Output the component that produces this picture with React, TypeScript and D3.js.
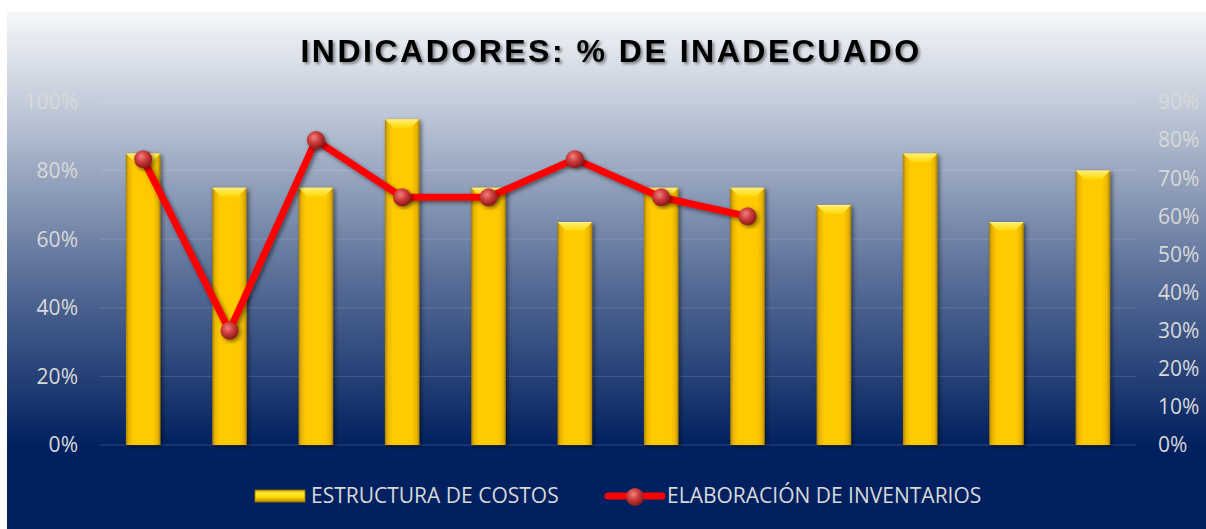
import React from "react";
import * as d3 from "d3";

const categories = ["1", "2", "3", "4", "5", "6", "7", "8", "9", "10", "11", "12"];
const costos = [85, 75, 75, 95, 75, 65, 75, 75, 70, 85, 65, 80];
const inventarios = [75, 30, 80, 65, 65, 75, 65, 60];
const leftTicks = [0, 20, 40, 60, 80, 100];
const rightTicks = [0, 10, 20, 30, 40, 50, 60, 70, 80, 90];

const W = 1206;
const H = 529;

export default function App() {
  const x = d3.scaleBand<string>().domain(categories).range([100, 1136]).paddingInner(0.6).paddingOuter(0.3);
  const yL = d3.scaleLinear().domain([0, 100]).range([445, 102]);
  const yR = d3.scaleLinear().domain([0, 90]).range([445, 102]);
  const bw = x.bandwidth();
  const cx = (i: number) => (x(categories[i]) as number) + bw / 2;
  const line = d3
    .line<number>()
    .x((_, i) => cx(i))
    .y((d) => yR(d));
  const labelColor = "#d9d9d9";
  const font = "'Open Sans', sans-serif";

  return (
    <svg width={W} height={H} style={{ position: "absolute", left: 0, top: 0 }} xmlns="http://www.w3.org/2000/svg">
      <defs>
        <linearGradient id="bg" x1="0" y1="12" x2="0" y2={H} gradientUnits="userSpaceOnUse">
          <stop offset="0" stopColor="#f5f7fa" />
          <stop offset="0.2" stopColor="#bcc6d6" />
          <stop offset="0.5" stopColor="#5d719a" />
          <stop offset="0.72" stopColor="#213d74" />
          <stop offset="0.84" stopColor="#00205f" />
          <stop offset="1" stopColor="#002060" />
        </linearGradient>
        <linearGradient id="bar" x1="0" y1="0" x2="1" y2="0">
          <stop offset="0" stopColor="#a88000" />
          <stop offset="0.08" stopColor="#e8b400" />
          <stop offset="0.22" stopColor="#ffca00" />
          <stop offset="0.78" stopColor="#ffca00" />
          <stop offset="0.92" stopColor="#e8b400" />
          <stop offset="1" stopColor="#a88000" />
        </linearGradient>
        <linearGradient id="bevel" x1="0" y1="0" x2="0" y2="1">
          <stop offset="0" stopColor="#fff07a" />
          <stop offset="1" stopColor="#ffd800" />
        </linearGradient>
        <radialGradient id="ball" cx="0.4" cy="0.35" r="0.65">
          <stop offset="0" stopColor="#f08080" />
          <stop offset="0.5" stopColor="#cc3a3a" />
          <stop offset="1" stopColor="#8a1a1a" />
        </radialGradient>
        <linearGradient id="legbar" x1="0" y1="0" x2="0" y2="1">
          <stop offset="0" stopColor="#c9a000" />
          <stop offset="0.25" stopColor="#ffee33" />
          <stop offset="0.6" stopColor="#ffd800" />
          <stop offset="1" stopColor="#b08800" />
        </linearGradient>
        <filter id="shadow" x="-30%" y="-10%" width="160%" height="130%">
          <feDropShadow dx="2" dy="2" stdDeviation="2" floodColor="#000" floodOpacity="0.5" />
        </filter>
        <filter id="tshadow" x="-10%" y="-30%" width="120%" height="160%">
          <feDropShadow dx="2" dy="2" stdDeviation="1.5" floodColor="#000" floodOpacity="0.45" />
        </filter>
      </defs>
      <rect x={0} y={0} width={W} height={H} fill="#ffffff" />
      <rect x={7} y={12} width={W - 7} height={H - 12} fill="url(#bg)" />

      {/* gridlines */}
      {leftTicks.map((t) => (
        <line key={t} x1={100} x2={1136} y1={yL(t)} y2={yL(t)} stroke="#ffffff" strokeOpacity={t === 0 ? 0.18 : 0.15} strokeWidth={1} />
      ))}

      {/* title */}
      <text x={611} y={62} textAnchor="middle" fontFamily="'Liberation Sans', Arial, sans-serif" fontWeight="bold" fontSize={32} letterSpacing={2.5} fill="#000" filter="url(#tshadow)">
        INDICADORES: % DE INADECUADO
      </text>

      {/* left axis labels */}
      {leftTicks.map((t) => (
        <text key={t} x={78} y={yL(t)} dy="0.35em" textAnchor="end" fontFamily={font} fontSize={21} fill={labelColor}>
          {t}%
        </text>
      ))}
      {/* right axis labels */}
      {rightTicks.map((t) => (
        <text key={t} x={1158} y={yR(t)} dy="0.35em" textAnchor="start" fontFamily={font} fontSize={21} fill={labelColor}>
          {t}%
        </text>
      ))}

      {/* bars */}
      {costos.map((v, i) => {
        const bx = x(categories[i]) as number;
        const by = yL(v);
        const bh = yL(0) - by;
        const bev = 9;
        return (
          <g key={i} filter="url(#shadow)">
            <rect x={bx} y={by} width={bw} height={bh} fill="url(#bar)" />
            <path d={`M${bx},${by}L${bx + bw},${by}L${bx + bw - bev},${by + bev}L${bx + bev},${by + bev}Z`} fill="url(#bevel)" />
          </g>
        );
      })}

      {/* line */}
      <path d={line(inventarios) || ""} fill="none" stroke="#ff0000" strokeWidth={7} strokeLinejoin="round" filter="url(#shadow)" />
      {inventarios.map((v, i) => (
        <circle key={i} cx={cx(i)} cy={yR(v)} r={9} fill="url(#ball)" filter="url(#shadow)" />
      ))}

      {/* legend */}
      <rect x={255} y={490} width={50} height={12} fill="url(#legbar)" stroke="#a07800" strokeWidth={0.8} />
      <text x={311} y={496} dy="0.35em" fontFamily={font} fontSize={21} fill={labelColor}>
        ESTRUCTURA DE COSTOS
      </text>
      <line x1={608} x2={662} y1={496} y2={496} stroke="#ff0000" strokeWidth={7} strokeLinecap="round" />
      <circle cx={635} cy={497} r={9} fill="url(#ball)" />
      <text x={667} y={496} dy="0.35em" fontFamily={font} fontSize={21} fill={labelColor}>
        ELABORACIÓN DE INVENTARIOS
      </text>
    </svg>
  );
}
